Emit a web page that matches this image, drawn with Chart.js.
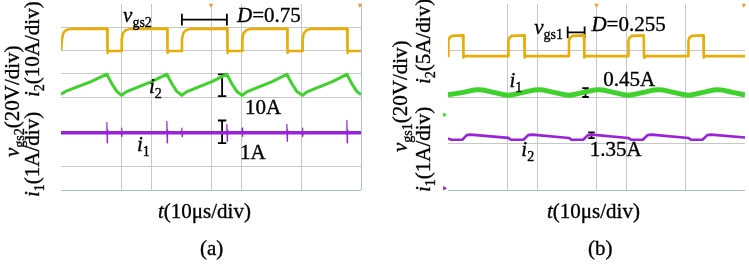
<!DOCTYPE html>
<html>
<head>
<meta charset="utf-8">
<script src="https://cdn.jsdelivr.net/npm/chart.js@4.4.1/dist/chart.umd.min.js"></script>
<style>
    html, body { margin: 0; padding: 0; background: #fff; width: 749px; height: 266px; overflow: hidden; }
    .panel { position: absolute; top: 0; height: 266px; }
    #pa { left: 0; width: 374px; }
    #pb { left: 374px; width: 375px; }
    .warm { position: absolute; left: -999px; font-family: "Liberation Serif", "DejaVu Serif"; }
</style>
</head>
<body>
<span class="warm">x</span><span class="warm" style="font-style:italic">x</span>
<div class="panel" id="pa"><canvas id="chartA" width="374" height="266"></canvas></div>
<div class="panel" id="pb"><canvas id="chartB" width="375" height="266"></canvas></div>
<script>
// time in us (10 us/div), values in screen divisions (8 div high)

// panel (a): vgs2, i2, i1
const tVgs2 = [0, 0.3, 0.35, 0.8, 1.6, 3.1, 15.4, 15.5, 15.8,
    20.2, 20.25, 20.7, 21.5, 23.0, 35.4, 35.5, 35.8,
    40.3, 40.35, 40.8, 41.6, 43.1, 55.4, 55.5, 55.8,
    60.4, 60.45, 60.9, 61.7, 63.2, 75.4, 75.5, 75.8,
    80.5, 80.55, 81.0, 81.8, 83.3, 95.4, 95.5, 95.8, 100]
const vgs2 = [5.98, 5.98, 6.5, 6.76, 6.87, 6.93, 6.94, 5.9, 5.98,
    5.98, 6.5, 6.76, 6.87, 6.93, 6.94, 5.9, 5.98,
    5.98, 6.5, 6.76, 6.87, 6.93, 6.94, 5.9, 5.98,
    5.98, 6.5, 6.76, 6.87, 6.93, 6.94, 5.9, 5.98,
    5.98, 6.5, 6.76, 6.87, 6.93, 6.94, 5.9, 5.98, 5.98]

const tI2a = [0, 1.5, 5, 10, 15.3, 16.1, 17, 18.6,
    20.2, 21.7, 25.2, 30.2, 35.3, 36.1, 37, 38.6,
    40.3, 41.8, 45.3, 50.3, 55.3, 56.1, 57, 58.6,
    60.4, 61.9, 65.4, 70.4, 75.3, 76.1, 77, 78.6,
    80.5, 82, 85.5, 90.5, 95.3, 96.1, 97, 98.6, 100]
const i2a = [4.12, 4.24, 4.41, 4.66, 4.98, 4.78, 4.56, 4.24,
    4.07, 4.22, 4.4, 4.66, 4.98, 4.78, 4.56, 4.24,
    4.07, 4.22, 4.4, 4.66, 4.98, 4.78, 4.56, 4.24,
    4.07, 4.22, 4.4, 4.66, 4.98, 4.78, 4.56, 4.24,
    4.07, 4.22, 4.4, 4.66, 4.98, 4.78, 4.56, 4.24, 4.1]

// i1 in (a): flat band plus switching spikes
const tI1a = [0, 100]
const i1a = [2.46, 2.46]
const tI1aSpk = [0, 15.2, 15.3, 15.4, 15.5, 15.7, 20.1, 20.2, 20.3, 20.4,
    35.2, 35.3, 35.4, 35.5, 35.7, 40.2, 40.3, 40.4, 40.5,
    55.2, 55.3, 55.4, 55.5, 55.7, 60.3, 60.4, 60.5, 60.6,
    75.2, 75.3, 75.4, 75.5, 75.7, 80.4, 80.5, 80.6, 80.7,
    95.2, 95.3, 95.4, 95.5, 95.7, 100]
const i1aSpk = [2.46, 2.46, 2.9, 2.03, 2.6, 2.46, 2.46, 2.66, 2.3, 2.46,
    2.46, 2.95, 2.03, 2.6, 2.46, 2.46, 2.66, 2.3, 2.46,
    2.46, 2.82, 2.1, 2.6, 2.46, 2.46, 2.66, 2.3, 2.46,
    2.46, 2.82, 2.1, 2.6, 2.46, 2.46, 2.66, 2.3, 2.46,
    2.46, 3.0, 2.03, 2.6, 2.46, 2.46]

// panel (b): vgs1, i1, i2
const tVgs1 = [0, 0.1, 0.15, 0.5, 1.3, 5.1, 5.2, 5.5,
    20.3, 20.35, 20.7, 21.5, 25.7, 25.8, 26.1,
    40.7, 40.75, 41.1, 41.9, 45.8, 45.9, 46.2,
    60.7, 60.75, 61.1, 61.9, 65.9, 66.0, 66.3,
    80.9, 80.95, 81.3, 82.1, 86.0, 86.1, 86.4, 100]
const vgs1 = [5.76, 5.76, 6.4, 6.55, 6.63, 6.65, 5.7, 5.76,
    5.76, 6.4, 6.55, 6.63, 6.65, 5.7, 5.76,
    5.76, 6.4, 6.55, 6.63, 6.65, 5.7, 5.76,
    5.76, 6.4, 6.55, 6.63, 6.65, 5.7, 5.76,
    5.76, 6.4, 6.55, 6.63, 6.65, 5.7, 5.76, 5.76]

const tI1b = [0, 5.1, 10.2, 15.3, 20.3, 25.4, 30.5, 35.6, 40.7, 45.7, 50.7,
    55.7, 60.7, 65.8, 70.8, 75.9, 80.9, 85.9, 90.9, 95.9, 100]
const i1b = [4.09, 4.2, 4.31, 4.2, 4.08, 4.2, 4.31, 4.2, 4.08, 4.2, 4.31,
    4.2, 4.08, 4.2, 4.31, 4.2, 4.08, 4.2, 4.31, 4.2, 4.09]

const tI2b = [0, 1.0, 4.8, 6.3, 7.6, 20.3, 21.2, 25.4, 27.0, 28.3,
    40.7, 41.6, 45.5, 47.1, 48.4, 60.7, 61.6, 65.6, 67.2, 68.5,
    80.9, 81.8, 85.7, 87.3, 88.6, 100]
const i2b = [2.22, 2.16, 2.16, 2.36, 2.38, 2.24, 2.16, 2.16, 2.36, 2.38,
    2.24, 2.16, 2.16, 2.36, 2.38, 2.24, 2.16, 2.16, 2.36, 2.38,
    2.24, 2.16, 2.16, 2.36, 2.38, 2.26]

// channel markers on the left edge, trigger markers on the top edge
const markYa = [6.48, 5.94, 3.62, 1.56]
const markYb = [6.27, 5.77, 3.24, 0.08]
const trigX = [50, 99.6]

const YEL = '#e8ad08'
const GRN = '#3fd12c'
const PUR = '#9a22d8'
const ORG = '#f39a2a'
const GRID = '#c8c8c8'
const EDGE = '#a9bfe6'
const CLEAR = 'rgba(0,0,0,0)'
const SERIF = '"Liberation Serif", "DejaVu Serif", serif'

const pts = (xs, ys) => xs.map((x, i) => ({ x, y: ys[i] }))

const hBracket = (x1, x2, y, cap) => [
    { x: x1, y: y - cap }, { x: x1, y: y + cap }, { x: x1, y: null },
    { x: x1, y }, { x: x2, y }, { x: x2, y: null },
    { x: x2, y: y - cap }, { x: x2, y: y + cap }
]
const vBracket = (x, y1, y2, cap) => [
    { x: x - cap, y: y1 }, { x: x + cap, y: y1 }, { x: x + cap, y: null },
    { x, y: y1 }, { x, y: y2 }, { x, y: null },
    { x: x - cap, y: y2 }, { x: x + cap, y: y2 }
]

// draw a run of [text, style] pieces: i = italic, s = subscript
function richText(ctx, segs, x, y, size) {
    let cx = x
    for (const [s, st] of segs) {
        const sub = st.includes('s')
        const it = st.includes('i')
        const fs = Math.round(sub ? size * 0.66 : size)
        const dy = sub ? size * 0.24 : 0
        ctx.font = `${it ? 'italic ' : ''}${fs}px ${SERIF}`
        ctx.fillText(s, cx, y + dy)
        ctx.strokeText(s, cx, y + dy)   // scanned text looks a bit heavier
        cx += ctx.measureText(s).width
    }
}

const labelPlugin = items => ({
    id: 'labels',
    afterDraw(chart) {
        const { ctx, scales } = chart
        ctx.save()
        ctx.fillStyle = '#000'
        ctx.strokeStyle = '#000'
        ctx.lineWidth = 0.35
        ctx.textBaseline = 'alphabetic'
        items.forEach(l => {
            const px = l.data ? scales.x.getPixelForValue(l.x) : l.x
            const py = l.data ? scales.y.getPixelForValue(l.y) : l.y
            if (l.rot) {
                ctx.save()
                ctx.translate(px, py)
                ctx.rotate(-Math.PI / 2)
                richText(ctx, l.segs, 0, 0, l.size)
                ctx.restore()
            } else {
                richText(ctx, l.segs, px, py, l.size)
            }
        })
        ctx.restore()
    }
})

function trace(data, color, width, tension) {
    return {
        data, borderColor: color, backgroundColor: color, borderWidth: width,
        pointRadius: 0, tension: tension || 0, borderJoinStyle: 'round', fill: false
    }
}

function markers(data, rot, colors) {
    return {
        type: 'scatter', data,
        pointStyle: 'triangle', rotation: rot, pointRadius: 2.6,
        pointBackgroundColor: colors, pointBorderWidth: 0, clip: false
    }
}

function makeChart(id, datasets, pad, xGrid, yGrid, items) {
    return new Chart(document.getElementById(id), {
        type: 'line',
        data: { datasets },
        options: {
            responsive: false,
            animation: false,
            events: [],
            layout: { padding: pad },
            plugins: { legend: { display: false }, tooltip: { enabled: false } },
            scales: {
                x: {
                    type: 'linear', min: 0, max: 100,
                    ticks: { display: false, stepSize: 10 },
                    grid: { drawTicks: false, lineWidth: 1, color: c => xGrid[c.tick.value] || CLEAR },
                    border: { display: false }
                },
                y: {
                    type: 'linear', min: 0, max: 8,
                    ticks: { display: false, stepSize: 1 },
                    grid: { drawTicks: false, lineWidth: 1, color: c => yGrid[c.tick.value] || CLEAR },
                    border: { display: false }
                }
            }
        },
        plugins: [labelPlugin(items)]
    })
}

const FS = 21

function build() {
    // ---- panel (a)
    makeChart('chartA', [
        trace(pts(tVgs2, vgs2), YEL, 2.6),
        trace(pts(tI2a, i2a), GRN, 3),
        trace(pts(tI1a, i1a), PUR, 3.6),
        trace(pts(tI1aSpk, i1aSpk), PUR, 1.2),
        trace(hBracket(40.3, 55.3, 7.33, 0.25), '#000', 1.8),
        trace(vBracket(53.7, 4.97, 4.04, 1.4), '#000', 1.8),
        trace(vBracket(53.7, 2.99, 2.02, 1.4), '#000', 1.8),
        markers(markYa.map(y => ({ x: -1.6, y })), 90, [YEL, YEL, GRN, PUR]),
        markers(trigX.map(x => ({ x, y: 7.95 })), 180, ORG)
    ], { left: 61, right: 13, top: 0, bottom: 76 },
    { 20: GRID, 30: GRID, 50: GRID, 60: GRID, 80: GRID, 100: EDGE },
    { 0: EDGE, 1: GRID, 4: GRID, 5: GRID, 6: GRID, 7: GRID },
    [
        { data: true, x: 20.7, y: 7.24, size: FS, segs: [['v', 'i'], ['gs2', 's']] },
        { data: true, x: 58.7, y: 7.24, size: FS, segs: [['D', 'i'], ['=0.75', 'n']] },
        { data: true, x: 29.3, y: 4.17, size: FS, segs: [['i', 'i'], ['2', 's']] },
        { data: true, x: 61.3, y: 3.28, size: FS, segs: [['10A', 'n']] },
        { data: true, x: 25.3, y: 1.68, size: FS, segs: [['i', 'i'], ['1', 's']] },
        { data: true, x: 59.7, y: 1.35, size: FS, segs: [['1A', 'n']] },
        { x: 158, y: 218, size: FS, segs: [['t', 'i'], ['(10μs/div)', 'n']] },
        { x: 200, y: 255, size: FS, segs: [['(a)', 'n']] },
        { rot: true, x: 19, y: 157, size: FS, segs: [['v', 'i'], ['gs2', 's'], ['(20V/div)', 'n']] },
        { rot: true, x: 39, y: 197, size: FS, segs: [['i', 'i'], ['1', 's'], ['(1A/div)', 'n']] },
        { rot: true, x: 39, y: 97, size: FS, segs: [['i', 'i'], ['2', 's'], ['(10A/div)', 'n']] }
    ])

    // ---- panel (b)
    makeChart('chartB', [
        trace(pts(tVgs1, vgs1), YEL, 2.6),
        trace(pts(tI1b, i1b), GRN, 5, 0.4),
        trace(pts(tI2b, i2b), PUR, 2.6),
        trace(hBracket(40.3, 46.0, 6.78, 0.25), '#000', 1.8),
        trace(vBracket(46.3, 4.38, 4.0, 1.1), '#000', 1.8),
        trace(vBracket(48.3, 2.48, 2.23, 1.1), '#000', 1.8),
        markers(markYb.map(y => ({ x: -1.2, y })), 90, [YEL, YEL, GRN, PUR]),
        markers(trigX.map(x => ({ x, y: 7.95 })), 180, ORG)
    ], { left: 74, right: 1, top: 0, bottom: 76 },
    { 20: GRID, 30: GRID, 50: GRID, 60: GRID, 80: GRID },
    { 0: EDGE, 2: GRID, 4: GRID, 6: GRID },
    [
        { data: true, x: 29, y: 6.69, size: FS, segs: [['v', 'i'], ['gs1', 's']] },
        { data: true, x: 48.3, y: 6.86, size: FS, segs: [['D', 'i'], ['=0.255', 'n']] },
        { data: true, x: 20.7, y: 4.42, size: FS, segs: [['i', 'i'], ['1', 's']] },
        { data: true, x: 52.3, y: 4.46, size: FS, segs: [['0.45A', 'n']] },
        { data: true, x: 24.7, y: 1.47, size: FS, segs: [['i', 'i'], ['2', 's']] },
        { data: true, x: 47.7, y: 1.47, size: FS, segs: [['1.35A', 'n']] },
        { x: 173, y: 218, size: FS, segs: [['t', 'i'], ['(10μs/div)', 'n']] },
        { x: 214, y: 255, size: FS, segs: [['(b)', 'n']] },
        { rot: true, x: 33, y: 152, size: FS, segs: [['v', 'i'], ['gs1', 's'], ['(20V/div)', 'n']] },
        { rot: true, x: 56, y: 192, size: FS, segs: [['i', 'i'], ['1', 's'], ['(1A/div)', 'n']] },
        { rot: true, x: 56, y: 84, size: FS, segs: [['i', 'i'], ['2', 's'], ['(5A/div)', 'n']] }
    ])
}

Promise.all([
    document.fonts.load('21px "Liberation Serif"'),
    document.fonts.load('italic 21px "Liberation Serif"')
]).then(build, build)
</script>
</body>
</html>
